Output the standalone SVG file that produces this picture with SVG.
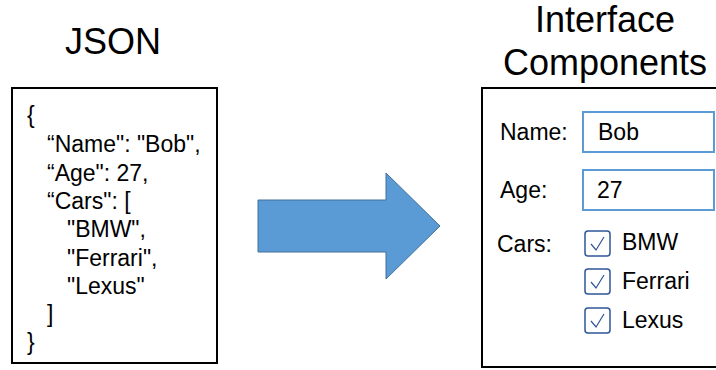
<svg xmlns="http://www.w3.org/2000/svg" width="716" height="370" viewBox="0 0 716 370">
<style>
text{font-family:"Liberation Sans",Arial,sans-serif;fill:#000}
.t{font-size:23px}
.h{font-size:36px;text-anchor:middle}
.box{fill:#fff;stroke:#000;stroke-width:2}
.in{fill:#fff;stroke:#5B9BD5;stroke-width:2}
.cb{fill:#fff;stroke:#2F5597;stroke-width:1.5}
.ck{fill:none;stroke:#2F5597;stroke-width:1.2}
</style>
<rect width="716" height="370" fill="#fff"/>
<g id="json">
<text class="h" x="113" y="54">JSON</text>
<rect class="box" x="12" y="88" width="205" height="275"/>
<text class="t" x="27" y="123">{</text>
<text class="t" x="47" y="152">“Name": "Bob",</text>
<text class="t" x="47" y="180.5">“Age": 27,</text>
<text class="t" x="47" y="209">“Cars": [</text>
<text class="t" x="67" y="237">"BMW",</text>
<text class="t" x="67" y="265.5">"Ferrari",</text>
<text class="t" x="67" y="293.5">"Lexus"</text>
<text class="t" x="47" y="322">]</text>
<text class="t" x="27" y="350">}</text>
</g>
<g id="connectors">
<path d="M258,200 H386 V173 L440,226 L386,279 V252 H258 Z" fill="#5B9BD5" stroke="#41719C" stroke-width="1"/>
</g>
<g id="ui">
<text class="h" x="605" y="32">Interface</text>
<text class="h" x="605" y="75">Components</text>
<rect class="box" x="482" y="88" width="240" height="279"/>
<text class="t" x="500" y="140">Name:</text>
<rect class="in" x="583" y="112" width="131" height="40"/>
<text class="t" x="598" y="140">Bob</text>
<text class="t" x="500" y="198">Age:</text>
<rect class="in" x="583" y="170" width="131" height="40"/>
<text class="t" x="597" y="198">27</text>
<text class="t" x="497" y="252">Cars:</text>
<g id="cb1"><rect class="cb" x="585" y="231" width="25" height="25" rx="3"/><path class="ck" d="M591,244 L596,250 L604,237"/></g>
<text class="t" x="622" y="250">BMW</text>
<g id="cb2"><rect class="cb" x="585" y="269" width="25" height="25" rx="3"/><path class="ck" d="M591,282 L596,288 L604,275"/></g>
<text class="t" x="622" y="289">Ferrari</text>
<g id="cb3"><rect class="cb" x="585" y="308" width="25" height="25" rx="3"/><path class="ck" d="M591,321 L596,327 L604,314"/></g>
<text class="t" x="622" y="328">Lexus</text>
</g>
</svg>
